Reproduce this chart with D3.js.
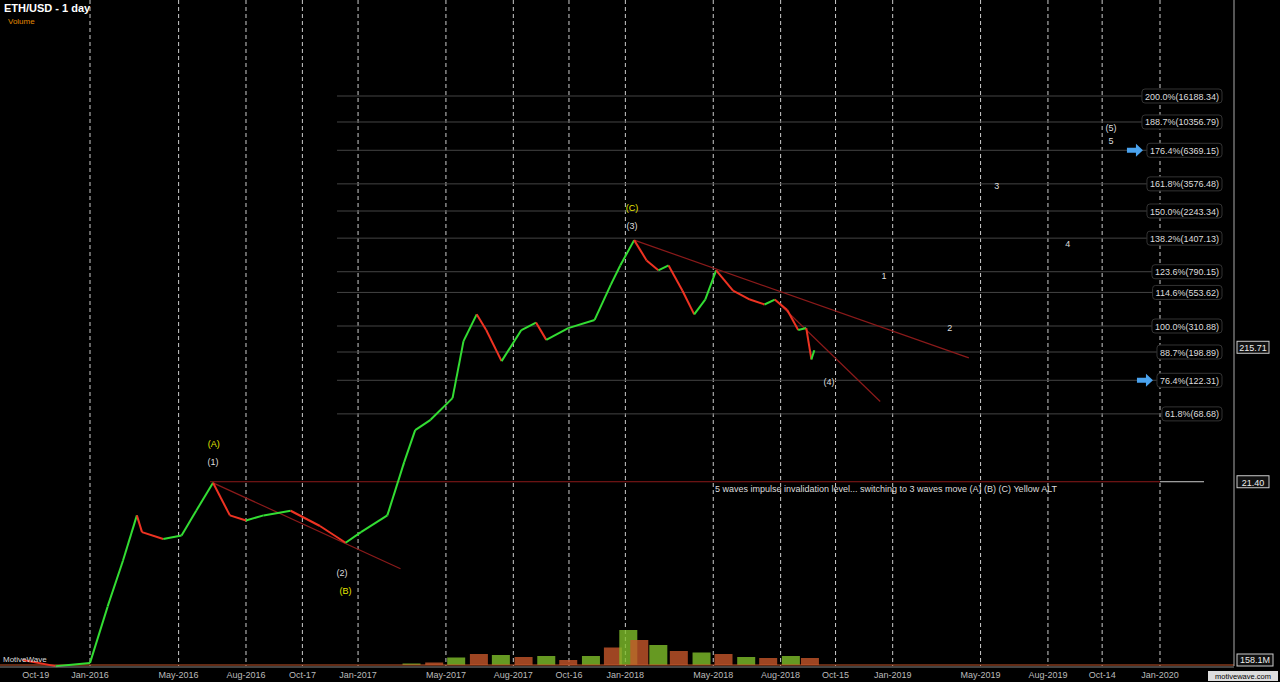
<!DOCTYPE html>
<html><head><meta charset="utf-8">
<script src="https://cdn.jsdelivr.net/npm/d3@7"></script>
<style>body{margin:0;background:#000;}text{font-family:"Liberation Sans",Arial,sans-serif;}</style>
</head><body><svg id="c" width="1280" height="682"></svg>
<script>
// price path (date, close)
var priceDates = ["2015-10-01","2015-11-15","2016-01-01","2016-01-25","2016-02-15","2016-03-05","2016-03-12","2016-04-10","2016-05-05","2016-05-25","2016-06-17","2016-07-10","2016-08-01","2016-08-25","2016-10-01","2016-11-10","2016-12-15","2017-01-05","2017-02-10","2017-03-05","2017-03-20","2017-04-10","2017-05-10","2017-05-25","2017-06-12","2017-06-25","2017-07-16","2017-08-12","2017-09-01","2017-09-15","2017-10-15","2017-11-20","2017-12-12","2017-12-25","2018-01-13","2018-01-30","2018-02-15","2018-03-01","2018-03-20","2018-04-05","2018-04-20","2018-05-05","2018-05-28","2018-06-20","2018-07-10","2018-07-24","2018-08-10","2018-08-25","2018-09-05","2018-09-12","2018-09-16"];
var priceValues = [1.0,0.9,0.95,2.5,5.5,12,9,8,8.5,13,21,12,11,12,13,10,7.5,9,12,30,52,62,90,240,380,290,170,290,330,245,300,345,630,880,1360,960,810,880,570,380,490,810,570,490,450,490,410,290,300,175,205];
// volume (millions)
var volDates = ["2017-03-15","2017-04-15","2017-05-15","2017-06-15","2017-07-15","2017-08-15","2017-09-15","2017-10-15","2017-11-15","2017-12-15","2018-01-05","2018-01-20","2018-02-15","2018-03-15","2018-04-15","2018-05-15","2018-06-15","2018-07-15","2018-08-15","2018-09-10"];
var volValues = [3,5,15,22,20,16,18,10,18,35,70,50,40,28,25,22,16,14,18,14];
var tickDates = ["2015-10-19","2016-01-01","2016-05-01","2016-08-01","2016-10-17","2017-01-01","2017-05-01","2017-08-01","2017-10-16","2018-01-01","2018-05-01","2018-08-01","2018-10-15","2019-01-01","2019-05-01","2019-08-01","2019-10-14","2020-01-01"];
var tickLabels = ["Oct-19","Jan-2016","May-2016","Aug-2016","Oct-17","Jan-2017","May-2017","Aug-2017","Oct-16","Jan-2018","May-2018","Aug-2018","Oct-15","Jan-2019","May-2019","Aug-2019","Oct-14","Jan-2020"];
var fibPct = ["200.0%","188.7%","176.4%","161.8%","150.0%","138.2%","123.6%","114.6%","100.0%","88.7%","76.4%","61.8%"];
var fibPrice = [16188.34,10356.79,6369.15,3576.48,2243.34,1407.13,790.15,553.62,310.88,198.89,122.31,68.68];
var waveText = ["(A)","(1)","(2)","(B)","(C)","(3)","(4)","1","2","3","4","(5)","5"];
var waveDate = ["2016-06-18","2016-06-17","2016-12-10","2016-12-15","2018-01-10","2018-01-10","2018-10-06","2018-12-20","2019-03-20","2019-05-23","2019-08-28","2019-10-26","2019-10-26"];
var wavePrice = [41,30,4.46,3.3,2360,1730,119,734,300,3445,1271,9330,7470];
var yellowWaves = ["(A)","(B)","(C)"];

var p = d3.timeParse("%Y-%m-%d");
var svg = d3.select("#c");
var x = d3.scaleTime().domain([p("2016-01-01"), p("2020-01-01")]).range([90, 1160]);
var y = d3.scaleLog().domain([1, 16188.34]).range([660, 96]);

svg.append("rect").attr("width",1280).attr("height",682).attr("fill","#000");

// vertical dashed grid
svg.selectAll(".vg").data(tickDates.slice(1)).enter().append("line")
  .attr("x1", function(d){return x(p(d));}).attr("x2", function(d){return x(p(d));})
  .attr("y1",0).attr("y2",666).attr("stroke","#ccc").attr("stroke-dasharray","4,3").attr("stroke-width",1);

// fib lines + labels
var labelLeft = [];
fibPrice.forEach(function(v,i){
  var t = fibPct[i] + "(" + v.toFixed(2) + ")";
  var g = svg.append("g");
  var tx = g.append("text").attr("x",1219).attr("y",y(v)+3.5).attr("text-anchor","end")
    .attr("fill","#ddd").attr("font-size",9).text(t);
  var w = tx.node().getComputedTextLength();
  labelLeft[i] = 1219-w-3;
  g.insert("line","text").attr("x1",337).attr("x2",1219-w-3).attr("y1",y(v)).attr("y2",y(v)).attr("stroke","#444");
  g.insert("rect","text").attr("x",1219-w-3).attr("y",y(v)-7).attr("width",w+6).attr("height",14)
    .attr("rx",3).attr("fill","#000").attr("stroke","#333");
});

// invalidation level
svg.append("line").attr("x1",210).attr("x2",1160).attr("y1",y(21.40)).attr("y2",y(21.40)).attr("stroke","#8b1a1a");
svg.append("line").attr("x1",1160).attr("x2",1204).attr("y1",y(21.40)).attr("y2",y(21.40)).attr("stroke","#ccc");
svg.append("text").attr("x",715).attr("y",y(21.40)+10).attr("fill","#ddd").attr("font-size",9)
  .text("5 waves impulse invalidation level... switching to 3 waves move (A) (B) (C) Yellow ALT");

// trend lines
var trends = [[["2016-06-17",21],["2017-02-28",4.8]],[["2018-01-13",1360],["2019-04-15",180]],[["2018-07-24",490],["2018-12-15",85]]];
trends.forEach(function(t){
  svg.append("line").attr("x1",x(p(t[0][0]))).attr("y1",y(t[0][1])).attr("x2",x(p(t[1][0]))).attr("y2",y(t[1][1]))
    .attr("stroke","#8b1a1a").attr("stroke-width",1.2);
});

// volume bars
var vy = d3.scaleLinear().domain([0,100]).range([665,615]);
volDates.forEach(function(d,i){
  var x0 = x(p(d));
  svg.append("rect").attr("x",x0-9).attr("y",vy(volValues[i])).attr("width",18).attr("height",665-vy(volValues[i]))
    .attr("fill", i%2 ? "#c5562a" : "#7fbf2a").attr("opacity",0.8);
});
svg.append("line").attr("x1",0).attr("x2",1234).attr("y1",665).attr("y2",665).attr("stroke","#c5562a");

// price path colored by direction
for (var i=1;i<priceDates.length;i++){
  svg.append("line").attr("x1",x(p(priceDates[i-1]))).attr("y1",y(priceValues[i-1]))
    .attr("x2",x(p(priceDates[i]))).attr("y2",y(priceValues[i]))
    .attr("stroke", priceValues[i]>=priceValues[i-1] ? "#33dd33" : "#ee3322").attr("stroke-width",2);
}

// wave labels
waveText.forEach(function(t,i){
  svg.append("text").attr("x",x(p(waveDate[i]))).attr("y",y(wavePrice[i])+3).attr("text-anchor","middle")
    .attr("font-size",9).attr("fill", yellowWaves.indexOf(t)>=0 ? "#e6e600" : "#ddd").text(t);
});

// blue arrows pointing at the target levels
[2,10].forEach(function(k){
  var yy=y(fibPrice[k]), ax=labelLeft[k]-4;
  svg.append("path").attr("d","M"+(ax-16)+","+(yy-2.5)+"h9v-4l7,6.5l-7,6.5v-4h-9z").attr("fill","#4aa3ef");
});

// right axis
svg.append("line").attr("x1",1234).attr("x2",1234).attr("y1",0).attr("y2",666).attr("stroke","#aaa");
[[215.71,"215.71"],[21.40,"21.40"]].forEach(function(l){
  svg.append("rect").attr("x",1237).attr("y",y(l[0])-6).attr("width",32).attr("height",12).attr("fill","#111").attr("stroke","#ccc");
  svg.append("text").attr("x",1253).attr("y",y(l[0])+4).attr("text-anchor","middle").attr("fill","#eee").attr("font-size",9).text(l[1]);
});
svg.append("rect").attr("x",1237).attr("y",654).attr("width",36).attr("height",12).attr("fill","#111").attr("stroke","#ccc");
svg.append("text").attr("x",1255).attr("y",663).attr("text-anchor","middle").attr("fill","#eee").attr("font-size",9).text("158.1M");

// x labels
svg.append("line").attr("x1",0).attr("x2",1234).attr("y1",667).attr("y2",667).attr("stroke","#888");
svg.selectAll(".xl").data(tickDates).enter().append("text")
  .attr("x",function(d){return x(p(d));}).attr("y",678).attr("text-anchor","middle")
  .attr("fill","#bbb").attr("font-size",9).text(function(d,i){return tickLabels[i];});

// titles
svg.append("text").attr("x",4).attr("y",12).attr("fill","#fff").attr("font-size",11).attr("font-weight","bold").text("ETH/USD - 1 day");
svg.append("text").attr("x",8).attr("y",24).attr("fill","#e08a00").attr("font-size",8).text("Volume");
svg.append("text").attr("x",3).attr("y",662).attr("fill","#ddd").attr("font-size",8).text("MotiveWave");
svg.append("rect").attr("x",1208).attr("y",671).attr("width",70).attr("height",10).attr("fill","#ddd");
svg.append("text").attr("x",1243).attr("y",679).attr("text-anchor","middle").attr("fill","#000").attr("font-size",7.5).text("motivewave.com");
</script></body></html>
